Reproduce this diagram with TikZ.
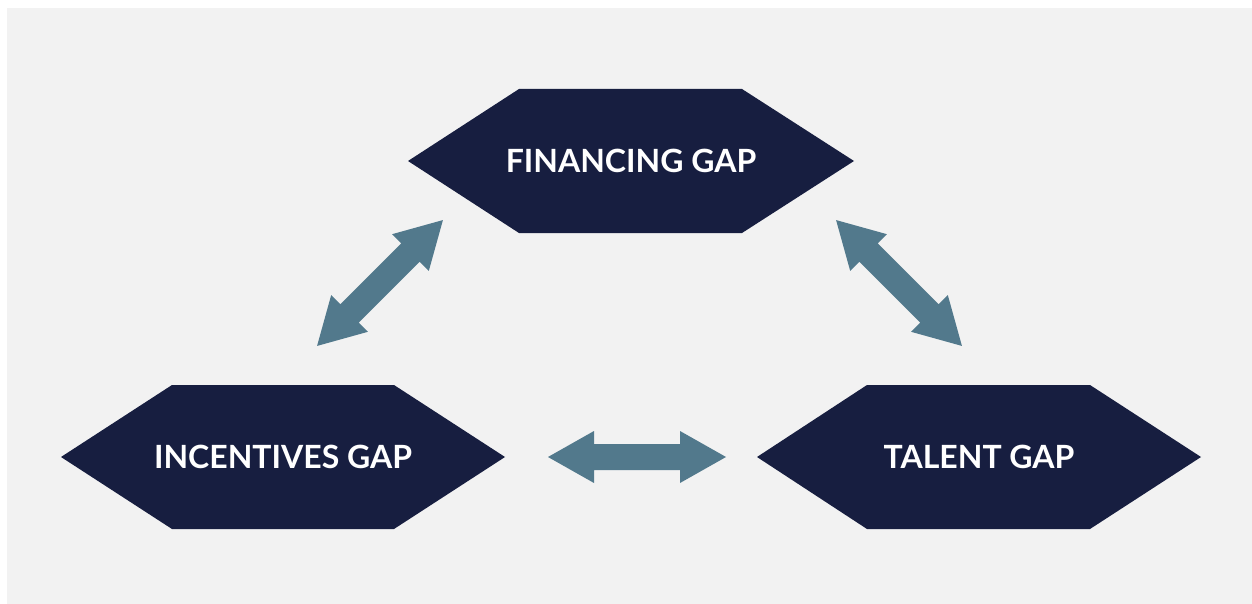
\documentclass[tikz,border=0pt]{standalone}
\usepackage{fontspec}
\setmainfont{Lato}
\definecolor{navy}{HTML}{171E40}
\definecolor{steel}{HTML}{52798C}
\definecolor{bggray}{HTML}{F2F2F2}
\begin{document}
\begin{tikzpicture}[x=1pt,y=-1pt,
  hexfill/.style={fill=navy,draw=none},
  gaplabel/.style={text=white,font=\fontsize{32}{38}\selectfont\bfseries,inner sep=0pt},
  arrowfill/.style={fill=steel,draw=none},
  dblarrow/.pic={\path[arrowfill] (-89,0) -- (-43,26) -- (-43,13) -- (43,13) -- (43,26) -- (89,0) -- (43,-26) -- (43,-13) -- (-43,-13) -- (-43,-26) -- cycle;}
]
\useasboundingbox (0,0) rectangle (1252,604);
\fill[white] (0,0) rectangle (1252,604);
\fill[bggray] (7,8) rectangle (1252,604);
% hexagons
\path[hexfill] (408,161) -- (519,89) -- (742,89) -- (854,161) -- (742,233) -- (519,233) -- cycle;
\node[gaplabel] (fin) at (631,161) {FINANCING GAP};
\path[hexfill] (61,457) -- (172,385) -- (394,385) -- (505,457) -- (394,529) -- (172,529) -- cycle;
\node[gaplabel] (inc) at (283,457) {INCENTIVES GAP};
\path[hexfill] (757,457) -- (867,385) -- (1090,385) -- (1201,457) -- (1090,529) -- (867,529) -- cycle;
\node[gaplabel] (tal) at (979,457) {TALENT GAP};
% arrows
\pic[rotate=45] at (380,283) {dblarrow};
\pic[rotate=-45] at (899,283) {dblarrow};
\pic at (637,457) {dblarrow};
\end{tikzpicture}
\end{document}
